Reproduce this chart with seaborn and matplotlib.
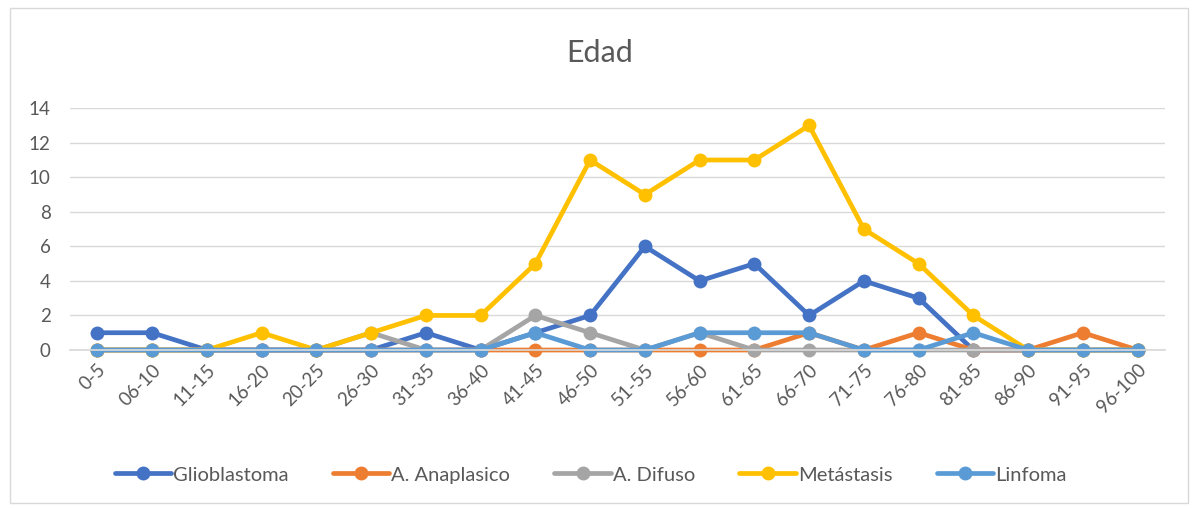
import matplotlib.pyplot as plt
import numpy as np
import pandas as pd
import seaborn as sns
from matplotlib.patches import Rectangle

# age groups on the x axis
age_groups = ["0-5", "06-10", "11-15", "16-20", "20-25", "26-30", "31-35", "36-40",
              "41-45", "46-50", "51-55", "56-60", "61-65", "66-70", "71-75", "76-80",
              "81-85", "86-90", "91-95", "96-100"]

glioblastoma = [1, 1, 0, 0, 0, 0, 1, 0, 1, 2, 6, 4, 5, 2, 4, 3, 0, 0, 0, 0]
anaplasico = [0, 0, 0, 0, 0, 0, 0, 0, 0, 0, 0, 0, 0, 1, 0, 1, 0, 0, 1, 0]
difuso = [0, 0, 0, 0, 0, 1, 0, 0, 2, 1, 0, 1, 0, 0, 0, 0, 0, 0, 0, 0]
metastasis = [0, 0, 0, 1, 0, 1, 2, 2, 5, 11, 9, 11, 11, 13, 7, 5, 2, 0, 0, 0]
linfoma = [0, 0, 0, 0, 0, 0, 0, 0, 1, 0, 0, 1, 1, 1, 0, 0, 1, 0, 0, 0]

series_names = ["Glioblastoma", "A. Anaplasico", "A. Difuso", "Metástasis", "Linfoma"]
series_values = [glioblastoma, anaplasico, difuso, metastasis, linfoma]
colors = ["#4472C4", "#ED7D31", "#A5A5A5", "#FFC000", "#5B9BD5"]

rows = []
for name, vals in zip(series_names, series_values):
    for i, v in enumerate(vals):
        rows.append({"pos": i, "Edad": age_groups[i], "Tipo": name, "Casos": v})
df = pd.DataFrame(rows)

sns.set_theme(style="white")
plt.rcParams["font.family"] = ["Lato", "DejaVu Sans"]

fig = plt.figure(figsize=(11.93, 5.08), dpi=100)
ax = fig.add_axes([0.0587, 0.311, 0.9178, 0.476])

sns.lineplot(
    data=df, x="pos", y="Casos", hue="Tipo", hue_order=series_names,
    palette=dict(zip(series_names, colors)), marker="o", markersize=10,
    markeredgewidth=0, linewidth=3.4, ax=ax, legend=False, clip_on=False,
)

ax.set_xlim(-0.5, len(age_groups) - 0.5)
ax.set_ylim(0, 14)
ax.set_yticks(np.arange(0, 15, 2))
ax.set_xticks(range(len(age_groups)))
ax.set_xticklabels(age_groups, rotation=45, ha="right", rotation_mode="anchor")
ax.tick_params(axis="both", labelsize=13.5, labelcolor="#595959", length=0)
ax.tick_params(axis="x", pad=8)
ax.tick_params(axis="y", pad=14)
ax.grid(axis="y", color="#D9D9D9", linewidth=1)
ax.set_axisbelow(True)
for side in ["top", "right", "left"]:
    ax.spines[side].set_visible(False)
ax.spines["bottom"].set_color("#D9D9D9")
ax.set_xlabel("")
ax.set_ylabel("")

fig.text(0.503, 0.895, "Edad", ha="center", va="center", fontsize=22, color="#595959")

handles = [plt.Line2D([], [], color=c, linewidth=3.4, marker="o", markersize=9)
           for c in colors]
fig.legend(handles, series_names, loc="center", bbox_to_anchor=(0.495, 0.065), ncol=5,
           frameon=False, fontsize=14.5, labelcolor="#595959", handlelength=2.8,
           handletextpad=0.1, columnspacing=2.2)

fig.patches.append(Rectangle((0.008, 0.01), 0.988, 0.975, transform=fig.transFigure,
                             fill=False, edgecolor="#D9D9D9", linewidth=1))

fig.savefig("out.png", dpi=100)
